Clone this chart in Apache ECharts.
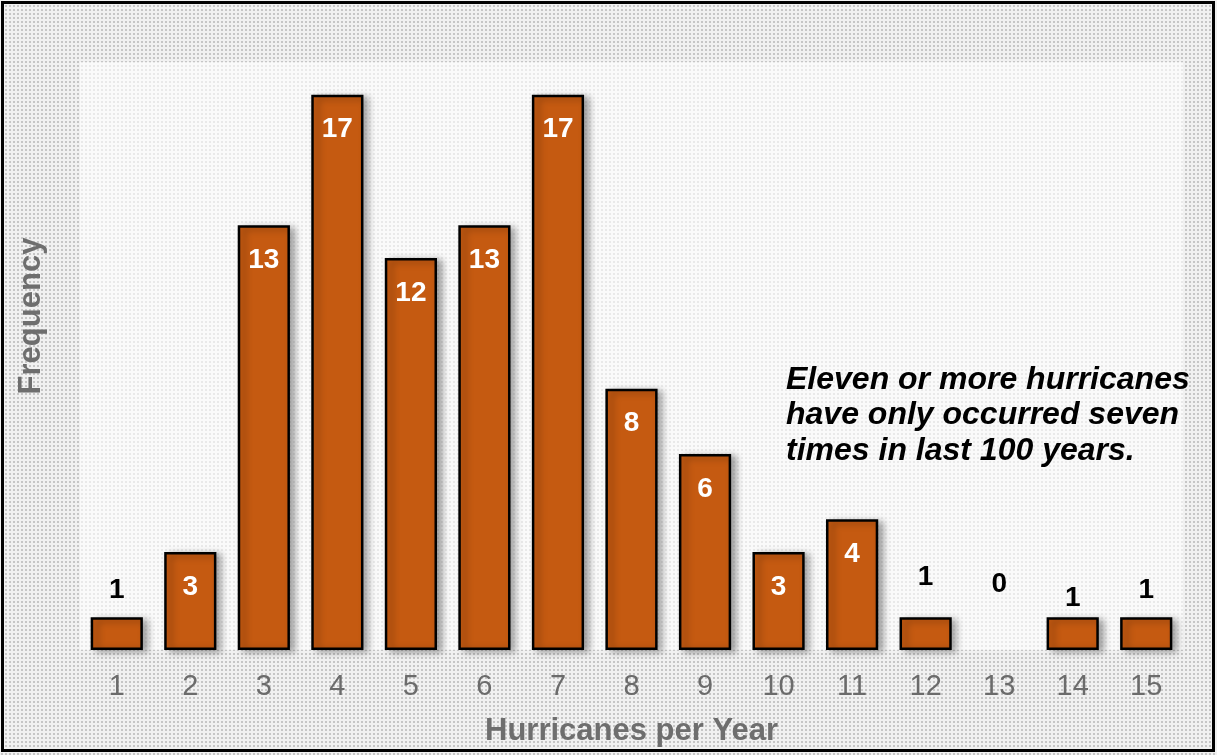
<!DOCTYPE html>
<html>
<head>
<meta charset="utf-8">
<script src="https://cdn.jsdelivr.net/npm/echarts@6/dist/echarts.min.js"></script>
<style>
html, body { margin: 0; padding: 0; background: #fff; }
#chart {
    position: absolute; left: 0; top: 0;
    width: 1217px; height: 755px;
    background-color: #f1f1f1;
    background-image: radial-gradient(circle, #c6c6c6 0.9px, transparent 1.3px);
    background-size: 4px 4px;
}
#frame {
    position: absolute; left: 1px; top: 1px;
    width: 1214px; height: 751px;
    box-sizing: border-box;
    border: 3px solid #000;
    pointer-events: none;
}
</style>
</head>
<body>
<div id="chart"></div>
<div id="frame"></div>
<script>
const categories = ['1', '2', '3', '4', '5', '6', '7', '8', '9', '10', '11', '12', '13', '14', '15']
const counts = [1, 3, 13, 17, 12, 13, 17, 8, 6, 3, 4, 1, 0, 1, 1]
const note = ['Eleven or more hurricanes', 'have only occurred seven', 'times in last 100 years.']

// small labels sit above the bar, a few nudged like the original
const topDistance = { '12': 26, '13': 52, '14': 5 }

const chart = echarts.init(document.getElementById('chart'))

const barData = counts.map((v, i) => {
    if (v >= 3) {
        return {
            value: v,
            label: { position: 'insideTop', distance: 21, color: '#fff' }
        }
    }
    return {
        value: v,
        itemStyle: v === 0 ? { borderWidth: 0, shadowBlur: 0 } : undefined,
        label: {
            position: 'top',
            distance: topDistance[categories[i]] ?? 13,
            color: '#000'
        }
    }
})

chart.setOption({
    backgroundColor: 'transparent',
    animation: false,
    grid: {
        left: 80,
        right: 34,
        top: 62,
        bottom: 105,
        show: true,
        backgroundColor: 'rgba(255,255,255,0.62)',
        borderWidth: 0
    },
    xAxis: {
        type: 'category',
        data: categories,
        name: 'Hurricanes per Year',
        nameLocation: 'middle',
        nameGap: 66,
        nameTextStyle: { color: '#6e6e6e', fontSize: 31, fontWeight: 'bold', fontFamily: 'Liberation Sans' },
        axisLine: { show: false },
        axisTick: { show: false },
        axisLabel: { color: '#6b6b6b', fontSize: 29, margin: 22, fontFamily: 'Liberation Sans' }
    },
    yAxis: {
        type: 'value',
        min: 0,
        max: 18,
        name: 'Frequency',
        nameLocation: 'middle',
        nameGap: 33,
        nameRotate: 90,
        nameTextStyle: {
            color: '#6e6e6e', fontSize: 31, fontWeight: 'bold', fontFamily: 'Liberation Sans',
            padding: [0, 0, 0, 80]
        },
        axisLine: { show: false },
        axisTick: { show: false },
        axisLabel: { show: false },
        splitLine: { show: false }
    },
    series: [{
        type: 'bar',
        data: barData,
        barCategoryGap: '29%',
        itemStyle: {
            color: '#c55a11',
            borderColor: '#000',
            borderWidth: 2.5,
            shadowColor: 'rgba(0,0,0,0.35)',
            shadowBlur: 7,
            shadowOffsetX: 5,
            shadowOffsetY: 2
        },
        label: {
            show: true,
            fontSize: 28,
            fontWeight: 'bold',
            fontFamily: 'Liberation Sans'
        }
    }],
    graphic: [{
        type: 'text',
        left: 786,
        top: 362,
        style: {
            text: note.join('\n'),
            fill: '#000',
            font: 'italic bold 32px "Liberation Sans"',
            lineHeight: 35.5
        }
    }]
})
</script>
</body>
</html>
